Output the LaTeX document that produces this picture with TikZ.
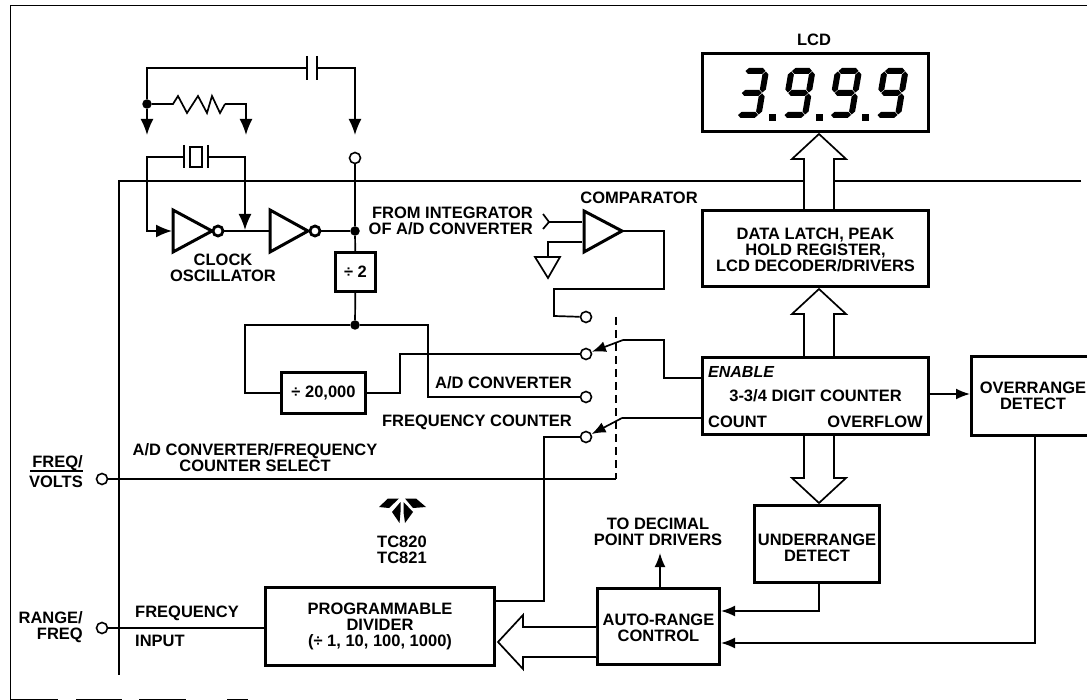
\documentclass[tikz,border=0pt]{standalone}
\usepackage{fontspec}
\setmainfont{Liberation Sans}
\usetikzlibrary{arrows.meta}
\tikzset{
  etiq/.style={font=\bfseries\fontsize{16.5}{16}\selectfont, inner sep=0pt, align=center},
  bloque/.style={etiq, draw=black, line width=3pt},
  pin/.style={circle, draw=black, fill=white, line width=1.6pt, minimum size=11pt, inner sep=0pt},
  nudo/.style={circle, fill=black, minimum size=9.5pt, inner sep=0pt},
  burbuja/.style={pin, line width=2.8pt, minimum size=10pt},
  hilo/.style={line width=1.7pt, line join=miter},
  flecha/.style={hilo, -{Latex[length=16pt,width=13pt]}},
  flechita/.style={hilo, -{Latex[length=14pt,width=11pt]}},
  puerta/.style={line width=3pt, fill=white, line join=miter},
  bushueca/.style={line width=1.7pt, fill=white, line join=miter}
}
% Flecha hueca: punta, giro, largo
\newcommand{\busflecha}[3]{
  \begin{scope}[shift={(#1)}, rotate=#2]
    \draw[bushueca] (-15,#3)-- (-15,25)-- (-27,25)-- (0,0)-- (27,25)-- (15,25)-- (15,#3);
  \end{scope}
}
% Segmentos del display
\newcommand{\segh}[2]{\fill (#1,#2)-- ++(3,-3)-- ++(14,0)-- ++(3,3)-- ++(-3,3)-- ++(-14,0)-- cycle;}
\newcommand{\segv}[2]{\fill (#1,#2)-- ++(-3,3)-- ++(0,15)-- ++(3,3)-- ++(3,-3)-- ++(0,-15)-- cycle;}
\newcommand{\digitotres}[1]{
  \begin{scope}[shift={(#1,68)}, xslant=0.17]
    \segh{2}{3} \segv{22.5}{3.5} \segh{2}{25} \segv{22.5}{25.5} \segh{2}{47}
  \end{scope}
}
\newcommand{\digitonueve}[1]{
  \begin{scope}[shift={(#1,68)}, xslant=0.17]
    \segh{2}{3} \segv{1.5}{3.5} \segv{22.5}{3.5} \segh{2}{25} \segv{22.5}{25.5} \segh{2}{47}
  \end{scope}
}
\begin{document}
\begin{tikzpicture}[x=1pt, y=-1pt]
  \useasboundingbox (0,0) rectangle (1087,700);
  \clip (0,0) rectangle (1087,700);
  % Marco exterior y borde del integrado
  \draw[line width=1pt] (1087,6)-- (10.5,6)-- (10.5,699)-- (58,699);
  \draw[line width=1pt] (76,699)-- (122,699) (139,699)-- (186,699) (227,699)-- (248,699);
  \draw[line width=1.5pt] (1081,181)-- (119,181)-- (119,675);

  % Bloques
  \node[bloque, minimum width=226pt, minimum height=78pt] (lcd) at (815.5,92.5) {};
  \node[bloque, minimum width=226pt, minimum height=76pt] (latch) at (815.5,248.5) {};
  \node[bloque, minimum width=226pt, minimum height=77pt] (counter) at (815.5,396) {3-3/4 DIGIT COUNTER};
  \node[bloque, minimum width=123pt, minimum height=79pt] (overrange) at (1033,396) {OVERRANGE\\DETECT};
  \node[bloque, minimum width=125pt, minimum height=77pt] (underrange) at (817,544) {};
  \node[bloque, minimum width=122pt, minimum height=76pt] (autorange) at (658.5,626.5) {};
  \node[bloque, minimum width=229pt, minimum height=78pt] (divider) at (380,626.5) {PROGRAMMABLE\\DIVIDER\\(÷ 1, 10, 100, 1000)};
  \node[bloque, minimum width=40pt, minimum height=39pt] (divdos) at (355.5,272) {÷ 2};
  \node[bloque, minimum width=84pt, minimum height=41pt] (divveinte) at (323.5,393) {÷ 20,000};

  % Display
  \digitotres{744}
  \digitonueve{790.5}
  \digitonueve{837}
  \digitonueve{883.5}
  \fill (769,114) rectangle ++(7,7);
  \fill (815.5,114) rectangle ++(7,7);
  \fill (862,114) rectangle ++(7,7);

  % Buses
  \busflecha{819,134}{0}{75}
  \busflecha{819,289}{0}{67}
  \busflecha{819,503}{180}{67}
  \busflecha{498,642}{90}{98}

  % Pines y nudos
  \node[pin] (pinclk) at (355,158) {};
  \node[pin] (pincomp) at (586,317) {};
  \node[pin] (pinsw) at (586,354) {};
  \node[pin] (pinad) at (586,397) {};
  \node[pin] (pinfc) at (586,437) {};
  \node[pin] (pinfreq) at (102,479) {};
  \node[pin] (pinrange) at (102,628) {};
  \node[nudo] (nudor) at (147,104) {};
  \node[nudo] (nudoclk) at (355,231) {};
  \node[nudo] (nudodiv) at (355,325) {};
  \coordinate (tipr) at (147,135);
  \coordinate (tipcap) at (355,135);
  \coordinate (tipres) at (246,135);
  \coordinate (capa) at (307,68);
  \coordinate (capb) at (317,68);
  \coordinate (resa) at (173,104);
  \coordinate (resb) at (225,104);
  \coordinate (xtala) at (184,157);
  \coordinate (xtalb) at (208,157);
  \coordinate (pivotsw) at (623,340);
  \coordinate (pivotfc) at (622,418);

  % Red RC y cristal
  \draw[hilo] (nudor) |- (capa);
  \draw[flecha] (nudor) -- (tipr);
  \draw[hilo] (capa |- 0,56)-- (capa |- 0,80);
  \draw[line width=2.2pt] (capb |- 0,56)-- (capb |- 0,80);
  \draw[flecha] (capb) -| (tipcap);
  \draw[hilo] (nudor) -- (resa)-- (178,96)-- (187,113)-- (198,96)-- (207,113)-- (212,96)-- (220,113)-- (resb);
  \draw[flecha] (resb) -| (tipres);
  \draw[hilo] (xtala |- 0,145)-- (xtala |- 0,168);
  \draw[hilo] (xtalb |- 0,145)-- (xtalb |- 0,168);
  \draw[hilo] (190,147) rectangle (202,167);

  % Oscilador
  \draw[puerta] (173,210)-- (173,252)-- (212,231)-- cycle;
  \draw[puerta] (270,210)-- (270,252)-- (308,231)-- cycle;
  \node[burbuja] (bur1) at (218,231) {};
  \node[burbuja] (bur2) at (315,231) {};
  \coordinate (inv1) at (172,231);
  \coordinate (inv2) at (269,231);
  \draw[flecha] (xtala) -| (147,231) -- (inv1);
  \draw[flecha] (xtalb) -| (245,230);
  \draw[hilo] (bur1) -- (inv2);
  \draw[hilo] (bur2) -- (nudoclk);
  \draw[hilo] (pinclk) -- (nudoclk);
  \draw[hilo] (nudoclk) -- (divdos);
  \draw[hilo] (divdos) -- (nudodiv);
  \draw[hilo] (nudodiv) -| (245,393) -- (divveinte);
  \draw[hilo] (nudodiv) -| (428,397) -- (pinad);
  \draw[hilo] (divveinte.east |- 0,393) -- (400,393) |- (pinsw);

  % Comparador
  \draw[puerta] (584,211)-- (584,252)-- (622,231)-- cycle;
  \coordinate (compin) at (582,222);
  \coordinate (compref) at (582,242);
  \coordinate (compout) at (623,231);
  \draw[hilo] (543,214)-- (549,222)-- (543,229);
  \draw[hilo] (549,222) -- (compin);
  \draw[hilo] (compref) -| (548,257);
  \draw[hilo] (535,257)-- (560,257)-- (548,278)-- cycle;
  \draw[hilo] (compout) -| (664,289) -| (554,316) -- (pincomp);

  % Conmutadores
  \draw[line width=1.6pt, dash pattern=on 8pt off 5pt] (616,317)-- (616,479);
  \draw[hilo] (pinfreq) -- (616,479);
  \draw[flechita] (pivotsw) -- (pinsw);
  \draw[flechita] (pivotfc) -- (pinfc);
  \draw[hilo] (pivotsw) -- (664,340)-- (664,378)-- (counter.west |- 0,378);
  \draw[hilo] (pivotfc) -- (counter.west |- 0,418);
  \draw[hilo] (pinfc) -| (544,601)-- (divider.east |- 0,601);
  \draw[hilo] (pinrange) -- (divider.west |- pinrange);

  % Detectores
  \draw[flechita] (counter.east |- 0,394) -- (overrange.west |- 0,394);
  \draw[flechita] (underrange.south -| 819,0) |- (autorange.east |- 0,611);
  \draw[flechita] (overrange.south -| 1035,0) |- (autorange.east |- 0,643);
  \draw[flechita] (autorange.north -| 660,0) -- (660,553);

  % Textos
  \node[etiq] (lbllcd) at (814,40) {LCD};
  \node[etiq] (lbllatch) at (815.5,250) {DATA LATCH, PEAK\\HOLD REGISTER,\\LCD DECODER/DRIVERS};
  \node[etiq] (lblunder) at (817,548) {UNDERRANGE\\DETECT};
  \node[etiq] (lblauto) at (658.5,628) {AUTO-RANGE\\CONTROL};
  \node[etiq] (lblclock) at (223,268) {CLOCK\\OSCILLATOR};
  \node[etiq] (lblcomp) at (639,198) {COMPARATOR};
  \node[etiq, align=right, anchor=east] (lblfrom) at (533,221) {FROM INTEGRATOR\\OF A/D CONVERTER};
  \node[etiq, anchor=east] (lblad) at (572,383) {A/D CONVERTER};
  \node[etiq, anchor=east] (lblfc) at (572,422) {FREQUENCY COUNTER};
  \node[etiq] (lblsel) at (255,458) {A/D CONVERTER/FREQUENCY\\COUNTER SELECT};
  \node[etiq, anchor=east] (lblfreqv) at (83,463) {FREQ/};
  \node[etiq, anchor=east] (lblvolts) at (83,482) {VOLTS};
  \draw[line width=1.2pt] (30,471)-- (83,471);
  \node[etiq, align=right, anchor=east] (lblrange) at (83,627) {RANGE/\\FREQ};
  \node[etiq, anchor=west] (lblfreq) at (135,613) {FREQUENCY};
  \node[etiq, anchor=west] (lblinput) at (135,641) {INPUT};
  \node[etiq] (lbltc) at (402,550) {TC820\\TC821};
  \node[etiq, font=\bfseries\itshape\fontsize{16}{16}\selectfont, anchor=west] (lblenable) at (708,372) {ENABLE};
  \node[etiq, anchor=west] (lblcount) at (708,422) {COUNT};
  \node[etiq, anchor=east] (lblover) at (923,422) {OVERFLOW};
  \node[etiq] (lbldec) at (658,532) {TO DECIMAL\\POINT DRIVERS};

  % Logotipo
  \fill (379,507)-- (388,498.5)-- (399,498.5)-- (389,508)-- cycle;
  \fill (426,507)-- (416,498.5)-- (405,498.5)-- (413,508)-- cycle;
  \fill (400.5,502)-- (392,512)-- (399.5,523)-- (400.5,512)-- cycle;
  \fill (403.5,502)-- (413,512)-- (405,523)-- (403.5,512)-- cycle;
\end{tikzpicture}
\end{document}
